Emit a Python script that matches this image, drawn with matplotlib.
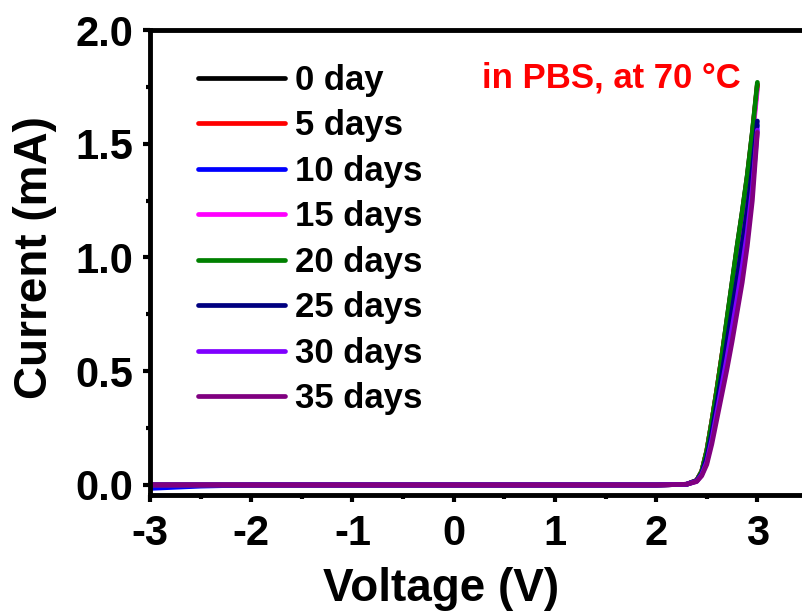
import matplotlib
matplotlib.use("Agg")
import matplotlib.pyplot as plt
from matplotlib.ticker import MultipleLocator

plt.rcParams['font.family'] = ['Liberation Sans', 'DejaVu Sans']
plt.rcParams['font.weight'] = 'bold'

# -----------------------------
# I-V data (V, mA)
# -----------------------------
voltage = [-3.0, -2.5, -2.0, -1.0, 0.0, 1.0, 2.0, 2.3, 2.4, 2.45, 2.5, 2.55,
           2.6, 2.65, 2.7, 2.75, 2.8, 2.85, 2.9, 2.95, 3.0]

labels = ["0 day", "5 days", "10 days", "15 days",
          "20 days", "25 days", "30 days", "35 days"]
colors = ["#000000", "#ff0000", "#0000ff", "#ff00ff",
          "#008000", "#000080", "#7f00ff", "#800080"]

cur_0 = [0.0, 0.0, 0.0, 0.0, 0.0, 0.0, 0.0, 0.003, 0.02, 0.06, 0.15, 0.28,
         0.42, 0.57, 0.73, 0.89, 1.05, 1.20, 1.36, 1.55, 1.76]
cur_5 = [0.0, 0.0, 0.0, 0.0, 0.0, 0.0, 0.0, 0.003, 0.02, 0.06, 0.15, 0.28,
         0.42, 0.57, 0.72, 0.88, 1.04, 1.19, 1.35, 1.54, 1.76]
cur_10 = [-0.015, -0.005, 0.0, 0.0, 0.0, 0.0, 0.0, 0.003, 0.018, 0.05, 0.12, 0.23,
          0.36, 0.49, 0.62, 0.76, 0.90, 1.05, 1.20, 1.38, 1.58]
cur_15 = [0.0, 0.0, 0.0, 0.0, 0.0, 0.0, 0.0, 0.003, 0.02, 0.055, 0.14, 0.27,
          0.40, 0.55, 0.70, 0.86, 1.02, 1.17, 1.33, 1.52, 1.74]
cur_20 = [0.0, 0.0, 0.0, 0.0, 0.0, 0.0, 0.0, 0.003, 0.02, 0.06, 0.15, 0.28,
          0.42, 0.57, 0.73, 0.89, 1.05, 1.20, 1.36, 1.55, 1.77]
cur_25 = [0.0, 0.0, 0.0, 0.0, 0.0, 0.0, 0.0, 0.003, 0.018, 0.05, 0.12, 0.23,
          0.36, 0.49, 0.63, 0.77, 0.91, 1.06, 1.21, 1.39, 1.60]
cur_30 = [0.0, 0.0, 0.0, 0.0, 0.0, 0.0, 0.0, 0.003, 0.016, 0.045, 0.10, 0.20,
          0.32, 0.44, 0.56, 0.69, 0.82, 0.96, 1.11, 1.30, 1.56]
cur_35 = [0.0, 0.0, 0.0, 0.0, 0.0, 0.0, 0.0, 0.003, 0.015, 0.04, 0.09, 0.18,
          0.29, 0.40, 0.51, 0.63, 0.76, 0.89, 1.05, 1.25, 1.55]

currents = [cur_0, cur_5, cur_10, cur_15, cur_20, cur_25, cur_30, cur_35]

fig = plt.figure(figsize=(8.03, 6.14), dpi=100)
ax = fig.add_axes([150 / 803, 1 - 495 / 614, 658 / 803, 465 / 614])

for cur, lab, col in zip(currents, labels, colors):
    ax.plot(voltage, cur, color=col, lw=3.4, label=lab,
            solid_capstyle="round", solid_joinstyle="round")

ax.set_xlim(-3.0, 3.5)
ax.set_ylim(-0.044, 2.0)
ax.xaxis.set_minor_locator(MultipleLocator(0.5))
ax.yaxis.set_minor_locator(MultipleLocator(0.25))
ax.set_xticks([-3, -2, -1, 0, 1, 2, 3])
ax.set_xticklabels(["-3", "-2", "-1", "0", "1", "2", "3"])
ax.set_yticks([0.0, 0.5, 1.0, 1.5, 2.0])
ax.set_yticklabels(["0.0", "0.5", "1.0", "1.5", "2.0"])

for s in ax.spines.values():
    s.set_linewidth(3.5)
ax.spines["right"].set_visible(False)
ax.tick_params(which="major", direction="out", length=5, width=3,
               labelsize=30)
ax.tick_params(axis="x", which="major", pad=9)
ax.tick_params(axis="y", which="major", pad=7)
ax.tick_params(which="minor", direction="out", length=3, width=3)
ax.tick_params(top=False, right=False, which="both")

ax.set_xlabel("Voltage (V)", fontsize=33, fontweight="bold", labelpad=9, x=0.442)
ax.set_ylabel("Current (mA)", fontsize=33, fontweight="bold", labelpad=13, y=0.51)

ax.text(0.505, 0.897, "in PBS, at 70 \u00b0C", color="red", fontsize=25,
        fontweight="bold", transform=ax.transAxes, ha="left", va="center")

ax.legend(loc="upper left", bbox_to_anchor=(0.052, 0.957), frameon=False,
          fontsize=25, handlelength=2.5, handletextpad=0.3,
          labelspacing=0.36, borderaxespad=0.0)

fig.savefig("out.png", dpi=100)
